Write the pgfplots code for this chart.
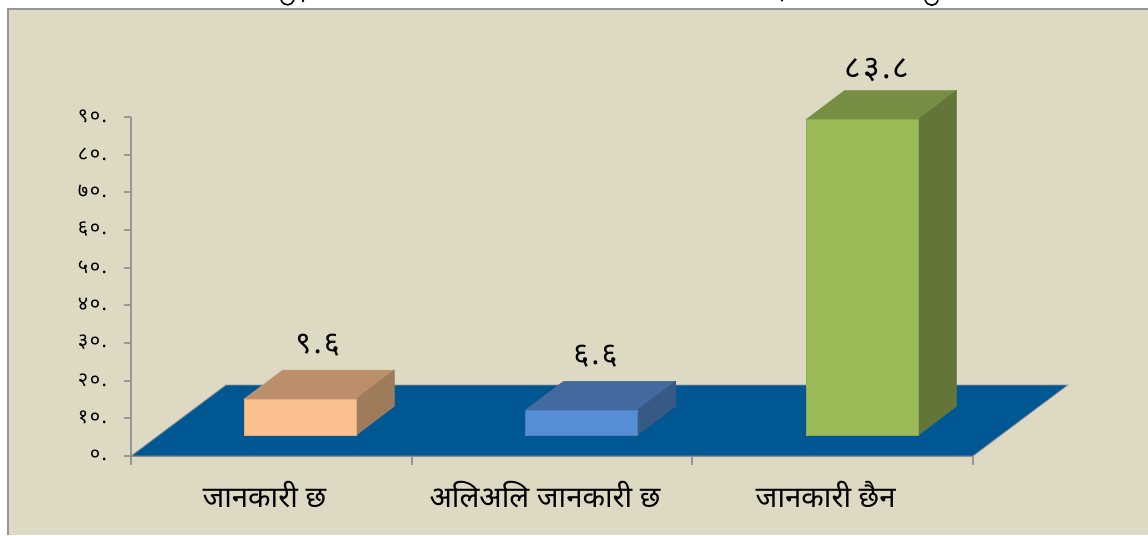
\documentclass[border=0pt]{standalone}
\usepackage{fontspec}
\usepackage{pgfplots}
\pgfplotsset{compat=1.18}
\setmainfont{Noto Sans}
\newfontfamily\devfont[Script=Devanagari]{Noto Sans}
\newfontfamily\devnum[Script=Devanagari,LetterSpace=7]{Noto Sans}
\definecolor{panel}{HTML}{DDD9C3}
\definecolor{axisgray}{HTML}{969696}
\definecolor{floorblue}{HTML}{005792}
\definecolor{orF}{HTML}{FAC08F}\definecolor{orT}{HTML}{BC8F6B}\definecolor{orS}{HTML}{9E7B5A}
\definecolor{blF}{HTML}{558ED5}\definecolor{blT}{HTML}{426A9E}\definecolor{blS}{HTML}{375A85}
\definecolor{grF}{HTML}{9BBB59}\definecolor{grT}{HTML}{778F44}\definecolor{grS}{HTML}{637539}
\begin{document}
\begin{tikzpicture}[x=0.75pt,y=0.75pt]
\path[use as bounding box,fill=white] (0,0) rectangle (1148,535);
\fill[panel] (8,0) rectangle (1148,526);
\draw[axisgray,line width=1.6pt] (8,0) -- (8,526) -- (1148,526);
% cut-off bottoms of the line of text above the panel
\draw[black,line width=1.2pt] (281,535) .. controls (284,528) and (292,529) .. (294,535);
\fill[black] (303,534) circle (1.4);
\fill[black] (782,534.5) circle (1.2);
\draw[black,line width=1.2pt] (925,535) .. controls (928,528) and (936,528) .. (938,535);
\begin{axis}[
  at={(98.25pt,59.25pt)},anchor=origin,
  scale only axis,width=631.5pt,height=254.25pt,
  xmin=0,xmax=3,ymin=0,ymax=90,
  clip=false,
  axis lines=left,
  axis line style={-,axisgray,line width=1.5pt},
  tick align=outside,
  tick style={axisgray,line width=1.3pt},
  major tick length=5.5pt,
  minor tick length=6.5pt,
  ytick={0,10,20,30,40,50,60,70,80,90},
  yticklabels={०.,१०.,२०.,३०.,४०.,५०.,६०.,७०.,८०.,९०.},
  yticklabel style={font=\devnum\fontsize{15}{17}\selectfont,text=black,xshift=-9pt,yshift=0.5pt},
  xtick={0.475,1.475,2.475},
  xticklabels={जानकारी छ,अलिअलि जानकारी छ,जानकारी छैन},
  major x tick style={draw=none},
  minor x tick style={draw=axisgray,line width=1.3pt},
  minor xtick={0,1,2,3},
  x tick label style={font=\devfont\fontsize{22}{25}\selectfont,text=black,yshift=-10pt},
]
% floor
\addplot[fill=floorblue,draw=axisgray,line width=0.6pt] coordinates {(0,0) (3,0) (3.338,18.85) (0.338,18.85)} -- cycle;
% bar 1
\addplot[fill=orT,draw=orT!85!white,line width=0.4pt] coordinates {(0.403,15.1) (0.801,15.1) (0.938,22.8) (0.54,22.8)} -- cycle;
\addplot[fill=orS,draw=orS,line width=0.4pt] coordinates {(0.801,5.5) (0.938,13.2) (0.938,22.8) (0.801,15.1)} -- cycle;
\addplot[fill=orF,draw=orF!90!black,line width=0.4pt] coordinates {(0.403,5.5) (0.801,5.5) (0.801,15.1) (0.403,15.1)} -- cycle;
% bar 2
\addplot[fill=blT,draw=blT,line width=0.4pt] coordinates {(1.404,12.1) (1.803,12.1) (1.94,19.8) (1.541,19.8)} -- cycle;
\addplot[fill=blS,draw=blS,line width=0.4pt] coordinates {(1.803,5.5) (1.94,13.2) (1.94,19.8) (1.803,12.1)} -- cycle;
\addplot[fill=blF,draw=blF!90!black,line width=0.4pt] coordinates {(1.404,5.5) (1.803,5.5) (1.803,12.1) (1.404,12.1)} -- cycle;
% bar 3
\addplot[fill=grT,draw=grT,line width=0.4pt] coordinates {(2.405,89.3) (2.804,89.3) (2.941,97) (2.542,97)} -- cycle;
\addplot[fill=grS,draw=grS,line width=0.4pt] coordinates {(2.804,5.5) (2.941,13.2) (2.941,97) (2.804,89.3)} -- cycle;
\addplot[fill=grF,draw=grF!90!black,line width=0.4pt] coordinates {(2.405,5.5) (2.804,5.5) (2.804,89.3) (2.405,89.3)} -- cycle;
\node[font=\devnum\fontsize{23}{25}\selectfont] at (axis cs:0.665,29.5) {९.६};
\node[font=\devnum\fontsize{23}{25}\selectfont] at (axis cs:1.655,26.5) {६.६};
\node[font=\devnum\fontsize{24}{26}\selectfont] at (axis cs:2.658,102.5) {८३.८};
\end{axis}
\end{tikzpicture}
\end{document}
